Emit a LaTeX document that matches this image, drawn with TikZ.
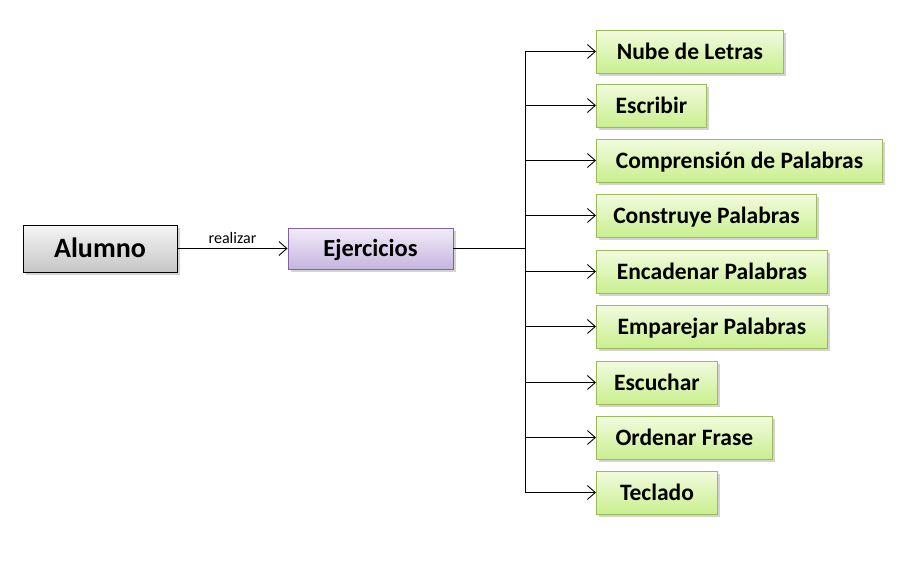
\documentclass[tikz,border=0pt]{standalone}
\usepackage{fontspec}
\setmainfont{Carlito}
\usetikzlibrary{arrows.meta, positioning, shadows}

\definecolor{verdeborde}{HTML}{9BBB59}
\definecolor{verdealto}{HTML}{F2FBDF}
\definecolor{verdebajo}{HTML}{C9EF8E}
\definecolor{moradoborde}{HTML}{8064A2}
\definecolor{moradoalto}{HTML}{F1ECF8}
\definecolor{moradobajo}{HTML}{C6B5DF}

\tikzset{
  caja/.style={draw, line width=0.9pt, minimum height=43pt, inner sep=0pt,
    text height=16pt, text depth=0pt,
    font=\fontsize{23.5}{27}\selectfont\bfseries,
    drop shadow={opacity=0.35, shadow xshift=2.5pt, shadow yshift=-2.5pt}},
  alumnobox/.style={caja, draw=black, top color=gray!8, bottom color=gray!45,
    minimum width=154pt, minimum height=47pt, text height=17pt,
    font=\fontsize{28}{32}\selectfont\bfseries},
  ejbox/.style={caja, draw=moradoborde, top color=moradoalto, bottom color=moradobajo,
    minimum width=165pt, minimum height=41pt, font=\fontsize{24.5}{28}\selectfont\bfseries},
  verdebox/.style={caja, draw=verdeborde, top color=verdealto, bottom color=verdebajo, anchor=west},
  flecha/.style={line width=0.9pt, -{Straight Barb[length=8pt, width=14pt, line width=0.9pt]}}
}

\begin{document}
\begin{tikzpicture}[x=1pt, y=-1pt]
\useasboundingbox (0,0) rectangle (915,560);
% alumno y ejercicios
\node[alumnobox] (alumno) at (100,248.5) {Alumno};
\node[ejbox] (ejercicios) at (370.5,248.5) {Ejercicios};
\draw[flecha] (alumno.east) -- node[above=1pt, font=\fontsize{16}{18}\selectfont] {realizar} (ejercicios.west);

% tipos de ejercicio
\coordinate (tronco) at (525,248.5);
\foreach \nom/\txt/\w/\y in {nube/Nube de Letras/187/51.5, escribir/Escribir/110/105.5,
    comprension/Comprensión de Palabras/286/160.5, construye/Construye Palabras/220/215.5,
    encadenar/Encadenar Palabras/231/271.5, emparejar/Emparejar Palabras/231/326.5,
    escuchar/Escuchar/121/382.5, ordenar/Ordenar Frase/176/437.5, teclado/Teclado/121/492.5}
{
    \node[verdebox, minimum width=\w pt] (\nom) at (596,\y) {\txt};
    \draw[flecha] (tronco |- \nom.west) -- (\nom.west);
}
\draw[line width=0.9pt] (ejercicios.east) -- (tronco);
\draw[line width=0.9pt] (tronco |- nube.west) -- (tronco |- teclado.west);
\end{tikzpicture}
\end{document}
